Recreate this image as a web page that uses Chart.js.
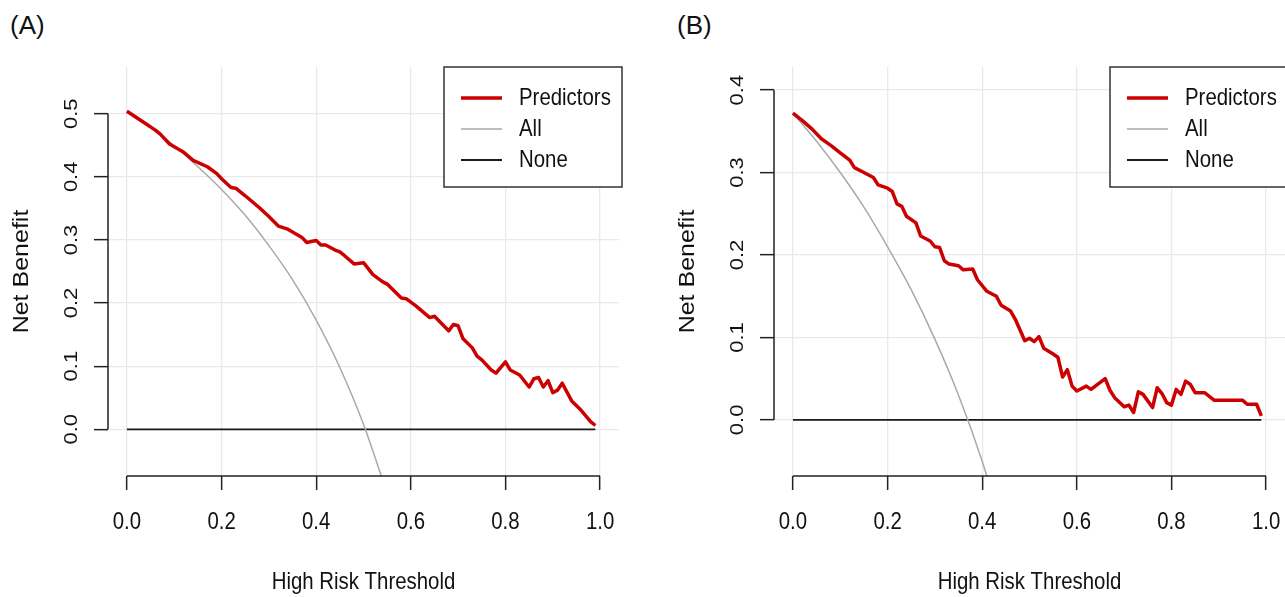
<!DOCTYPE html>
<html>
<head>
<meta charset="utf-8">
<script src="https://cdn.jsdelivr.net/npm/chart.js@4.4.1/dist/chart.umd.min.js"></script>
<style>
html, body { margin: 0; padding: 0; width: 1285px; height: 597px; overflow: hidden; background: #fff; }
.panel { position: absolute; top: 0; width: 640px; height: 597px; }
.tag { position: absolute; top: 10px; font: 26px 'Liberation Sans', Arial, sans-serif; line-height: 30px; color: #111; }
</style>
</head>
<body>
<div class="tag" style="left:10px">(A)</div>
<div class="tag" style="left:677px">(B)</div>
<div class="panel" style="left:0"><canvas id="chartA" width="640" height="597"></canvas></div>
<div class="panel" style="left:666px"><canvas id="chartB" width="640" height="597"></canvas></div>
<script>
// tick labels
const xTicks = [0, 0.2, 0.4, 0.6, 0.8, 1.0]
const yTicksA = [0, 0.1, 0.2, 0.3, 0.4, 0.5]
const yTicksB = [0, 0.1, 0.2, 0.3, 0.4]
const seriesLabels = ['Predictors', 'All', 'None']
const xTitle = 'High Risk Threshold'
const yTitle = 'Net Benefit'

// panel A
const thresholdsA = [0, 0.02, 0.04, 0.06, 0.07, 0.09, 0.12, 0.14, 0.17, 0.19, 0.20, 0.22, 0.23, 0.25, 0.28, 0.30, 0.32, 0.34, 0.37, 0.38,
    0.40, 0.41, 0.42, 0.44, 0.45, 0.46, 0.48, 0.50, 0.52, 0.54, 0.55, 0.58, 0.59, 0.61, 0.64, 0.65, 0.68, 0.69, 0.70, 0.71,
    0.73, 0.74, 0.75, 0.77, 0.78, 0.80, 0.81, 0.83, 0.85, 0.86, 0.87, 0.88, 0.89, 0.90, 0.91, 0.92, 0.94, 0.96, 0.98, 0.99]
const predictorsA = [0.504, 0.494, 0.484, 0.474, 0.468, 0.452, 0.439, 0.426, 0.416, 0.405, 0.397, 0.383, 0.382, 0.370, 0.351, 0.337, 0.322, 0.317, 0.304, 0.296,
    0.299, 0.292, 0.292, 0.284, 0.281, 0.275, 0.262, 0.264, 0.245, 0.234, 0.230, 0.208, 0.207, 0.196, 0.177, 0.179, 0.156, 0.166, 0.164, 0.144,
    0.129, 0.116, 0.110, 0.094, 0.089, 0.107, 0.094, 0.086, 0.067, 0.080, 0.082, 0.067, 0.077, 0.058, 0.062, 0.073, 0.045, 0.030, 0.012, 0.006]
const allThresholdsA = [0, 0.05, 0.10, 0.15, 0.20, 0.25, 0.30, 0.35, 0.40, 0.45, 0.50, 0.55]
const allA = [0.504, 0.478, 0.449, 0.416, 0.380, 0.339, 0.291, 0.237, 0.173, 0.098, 0.008, -0.102]

// panel B
const thresholdsB = [0, 0.02, 0.04, 0.06, 0.08, 0.10, 0.12, 0.13, 0.15, 0.17, 0.18, 0.20, 0.21, 0.22, 0.23, 0.24, 0.26, 0.27, 0.29, 0.30,
    0.31, 0.32, 0.33, 0.35, 0.36, 0.38, 0.39, 0.41, 0.43, 0.44, 0.46, 0.47, 0.49, 0.50, 0.51, 0.52, 0.53, 0.55, 0.56, 0.57,
    0.58, 0.59, 0.60, 0.62, 0.63, 0.66, 0.67, 0.68, 0.70, 0.71, 0.72, 0.73, 0.74, 0.76, 0.77, 0.78, 0.79, 0.80, 0.81, 0.82,
    0.83, 0.84, 0.85, 0.87, 0.89, 0.95, 0.96, 0.98, 0.99]
const predictorsB = [0.372, 0.363, 0.353, 0.341, 0.333, 0.324, 0.315, 0.306, 0.300, 0.294, 0.285, 0.281, 0.277, 0.262, 0.259, 0.247, 0.239, 0.223, 0.217, 0.210,
    0.209, 0.193, 0.189, 0.187, 0.182, 0.183, 0.170, 0.156, 0.150, 0.139, 0.132, 0.122, 0.096, 0.099, 0.095, 0.101, 0.087, 0.080, 0.076, 0.052,
    0.061, 0.041, 0.035, 0.041, 0.037, 0.050, 0.036, 0.027, 0.016, 0.018, 0.009, 0.034, 0.031, 0.015, 0.039, 0.032, 0.021, 0.018, 0.037, 0.031,
    0.047, 0.043, 0.033, 0.033, 0.024, 0.024, 0.019, 0.019, 0.005]
const allThresholdsB = [0, 0.05, 0.10, 0.15, 0.20, 0.25, 0.30, 0.35, 0.40, 0.45]
const allB = [0.372, 0.338, 0.300, 0.258, 0.210, 0.158, 0.098, 0.030, -0.050, -0.145]

const noneThresholds = [0, 0.99]
const noneValues = [0, 0]

const family = "'Liberation Sans', Arial, sans-serif"
const squeeze = 0.85   // the reference lettering is narrow

const toPoints = (xs, ys) => xs.map((x, i) => ({ x: x, y: ys[i] }))

const drawText = (ctx, text, x, y, size, align, rotated) => {
    ctx.save()
    ctx.translate(x, y)
    ctx.scale(squeeze, 1)
    if (rotated) ctx.rotate(-Math.PI / 2)
    ctx.font = size + 'px ' + family
    ctx.fillStyle = '#111'
    ctx.textAlign = align
    ctx.textBaseline = 'middle'
    ctx.fillText(text, 0, 0)
    ctx.restore()
}

// R style axes: short axis lines, labels, boxed legend
const rStyle = {
    id: 'rStyle',
    afterDraw(chart) {
        const ctx = chart.ctx
        const sx = chart.scales.x
        const sy = chart.scales.y
        const area = chart.chartArea
        const yVals = sy.ticks.map(t => t.value)
        const xVals = sx.ticks.map(t => t.value)
        ctx.save()
        ctx.strokeStyle = '#222'
        ctx.lineWidth = 1.5
        ctx.beginPath()
        ctx.moveTo(sx.getPixelForValue(xVals[0]), area.bottom)
        ctx.lineTo(sx.getPixelForValue(xVals[xVals.length - 1]), area.bottom)
        ctx.moveTo(area.left, sy.getPixelForValue(yVals[0]))
        ctx.lineTo(area.left, sy.getPixelForValue(yVals[yVals.length - 1]))
        ctx.stroke()
        ctx.restore()

        xVals.forEach(v => drawText(ctx, v.toFixed(1), sx.getPixelForValue(v), area.bottom + 46, 24, 'center', false))
        yVals.forEach(v => drawText(ctx, v.toFixed(1), area.left - 36, sy.getPixelForValue(v), 22, 'center', true))
        drawText(ctx, xTitle, (sx.getPixelForValue(0) + sx.getPixelForValue(1)) / 2, area.bottom + 106, 24, 'center', false)
        drawText(ctx, yTitle, 22, (area.top + area.bottom) / 2, 25, 'center', true)

        // legend
        const bx = 444, by = 67, bw = 178, bh = 120
        ctx.save()
        ctx.fillStyle = '#fff'
        ctx.fillRect(bx, by, bw, bh)
        ctx.strokeStyle = '#333'
        ctx.lineWidth = 1.5
        ctx.strokeRect(bx, by, bw, bh)
        chart.data.datasets.forEach((ds, i) => {
            const ly = by + 31 * (i + 1)
            ctx.strokeStyle = ds.borderColor
            ctx.lineWidth = ds.borderWidth
            ctx.beginPath()
            ctx.moveTo(bx + 17, ly)
            ctx.lineTo(bx + 58, ly)
            ctx.stroke()
            drawText(ctx, ds.label, bx + 75, ly, 24, 'left', false)
        })
        ctx.restore()
    }
}

const makePanel = (id, predX, predY, allX, allY, yTicks, yMin, yMax) => {
    const gridOpts = { color: '#e9e9e9', lineWidth: 1.3, tickColor: '#222', tickWidth: 1.5, tickLength: 14 }
    const config = {
        type: 'line',
        data: {
            datasets: [{
                label: seriesLabels[0],
                data: toPoints(predX, predY),
                borderColor: '#cc0000',
                borderWidth: 3.5,
                pointRadius: 0,
                borderJoinStyle: 'round'
            }, {
                label: seriesLabels[1],
                data: toPoints(allX, allY),
                borderColor: '#a9a9a9',
                borderWidth: 1.5,
                pointRadius: 0,
                cubicInterpolationMode: 'monotone'
            }, {
                label: seriesLabels[2],
                data: toPoints(noneThresholds, noneValues),
                borderColor: '#1a1a1a',
                borderWidth: 1.8,
                pointRadius: 0
            }]
        },
        options: {
            responsive: false,
            animation: false,
            devicePixelRatio: 1,
            layout: { padding: { left: 0, right: 21, top: 67, bottom: 0 } },
            plugins: { legend: { display: false }, tooltip: { enabled: false } },
            scales: {
                x: {
                    type: 'linear',
                    min: -0.04,
                    max: 1.04,
                    afterBuildTicks: (s) => { s.ticks = xTicks.map(v => ({ value: v })) },
                    afterFit: (s) => { s.height = 121 },
                    grid: gridOpts,
                    border: { display: false },
                    ticks: { display: false }
                },
                y: {
                    type: 'linear',
                    min: yMin,
                    max: yMax,
                    afterBuildTicks: (s) => { s.ticks = yTicks.map(v => ({ value: v })) },
                    afterFit: (s) => { s.width = 108 },
                    grid: gridOpts,
                    border: { display: false },
                    ticks: { display: false }
                }
            }
        },
        plugins: [rStyle]
    }
    return new Chart(document.querySelector(id), config)
}

const chartA = makePanel('#chartA', thresholdsA, predictorsA, allThresholdsA, allA, yTicksA, -0.074, 0.574)
const chartB = makePanel('#chartB', thresholdsB, predictorsB, allThresholdsB, allB, yTicksB, -0.068, 0.428)
</script>
</body>
</html>
